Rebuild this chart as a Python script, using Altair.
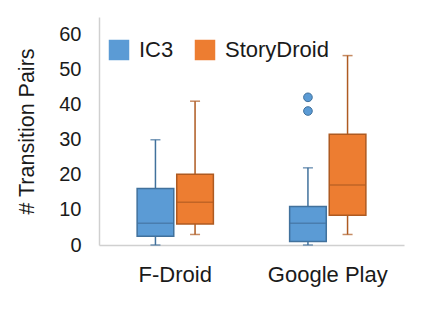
import altair as alt
import pandas as pd

groups = ["F-Droid", "F-Droid", "Google Play", "Google Play"]
series = ["IC3", "StoryDroid", "IC3", "StoryDroid"]
mins = [0, 3, 0, 3]
q1s = [2.5, 6, 1, 8.5]
medians = [6.2, 12.2, 6.2, 17.1]
q3s = [16.1, 20.2, 11, 31.6]
maxs = [30, 41, 22, 54]

out_groups = ["Google Play", "Google Play"]
out_series = ["IC3", "IC3"]
out_values = [42.1, 38.2]

series_names = ["IC3", "StoryDroid"]
fill_colors = ["#5B9BD5", "#ED7D31"]
stroke_colors = ["#41719C", "#AE5A21"]
y_ticks = [0, 10, 20, 30, 40, 50, 60]

df = pd.DataFrame({"group": groups, "series": series, "min": mins, "q1": q1s,
                   "median": medians, "q3": q3s, "max": maxs})
odf = pd.DataFrame({"group": out_groups, "series": out_series, "value": out_values})

x_enc = alt.X("group:N", title=None,
              scale=alt.Scale(paddingInner=0.5, paddingOuter=0.25),
              axis=alt.Axis(labelAngle=0, ticks=False, labelPadding=19, labelFontSize=22,
                            domainColor="#d0d0d0", domainWidth=1.5))
xo_enc = alt.XOffset("series:N", scale=alt.Scale(domain=series_names, paddingInner=0.075, paddingOuter=0))
y_scale = alt.Scale(domain=[0, 65], nice=False)
y_axis = alt.Axis(values=y_ticks, tickCount=7, ticks=False, grid=False, labelPadding=18,
                  labelOverlap=False, titlePadding=20,
                  domainColor="#d0d0d0", domainWidth=1.5)
fill_scale = alt.Scale(domain=series_names, range=fill_colors)
# data-driven domain (sorted: IC3, StoryDroid) so its legend is not merged with the fill legend
stroke_scale = alt.Scale(range=stroke_colors)

leg = alt.Legend(orient="none", legendX=9, legendY=22, direction="horizontal",
                 symbolType="square", symbolSize=420, symbolStrokeWidth=0,
                 labelOffset=9, columnPadding=20, labelFontSize=22,
                 labelColor="#1a1a1a", labelFont="Liberation Sans")


def yq(field):
    return alt.Y(field, scale=y_scale, title="# Transition Pairs", axis=y_axis)


edge = alt.Stroke("edge:N", scale=stroke_scale, title=None, legend=None)

base = alt.Chart(df).transform_calculate(edge="datum.series").encode(x=x_enc, xOffset=xo_enc)

whisker = base.mark_rule(strokeWidth=1.5).encode(
    y=yq("min:Q"),
    y2="max:Q",
    stroke=edge,
)
cap_top = base.mark_tick(size=10, thickness=1.5).encode(
    y=yq("max:Q"),
    color=alt.Color("edge:N", scale=stroke_scale, legend=None),
)
cap_bot = base.mark_tick(size=10, thickness=1.5).encode(
    y=yq("min:Q"),
    color=alt.Color("edge:N", scale=stroke_scale, legend=None),
)
box = base.mark_bar(strokeWidth=1.5).encode(
    y=yq("q1:Q"),
    y2="q3:Q",
    fill=alt.Fill("series:N", scale=fill_scale, title=None, legend=leg),
    stroke=edge,
)
med = base.mark_tick(size=36, thickness=1.5).encode(
    y=yq("median:Q"),
    color=alt.Color("edge:N", scale=stroke_scale, legend=None),
)
outl = alt.Chart(odf).transform_calculate(edge="datum.series").mark_point(
    filled=True, size=75, opacity=1, strokeWidth=1).encode(
    x=x_enc, xOffset=xo_enc,
    y=yq("value:Q"),
    fill=alt.Fill("series:N", scale=fill_scale, title=None, legend=leg),
    stroke=edge,
)

chart = alt.layer(whisker, cap_top, cap_bot, box, med, outl).properties(
    width=305, height=228,
    autosize=alt.AutoSizeParams(type="none"),
    padding={"left": 91, "top": 9, "right": 11, "bottom": 67},
).configure(font="Liberation Sans").configure_view(stroke=None).configure_axis(
    labelFont="Liberation Sans", labelFontSize=20, labelColor="#1a1a1a",
    titleFont="Liberation Sans", titleFontSize=21.5, titleFontWeight="normal", titleColor="#1a1a1a",
)

chart.save("out.html", embed_options={"renderer": "svg", "actions": False})
